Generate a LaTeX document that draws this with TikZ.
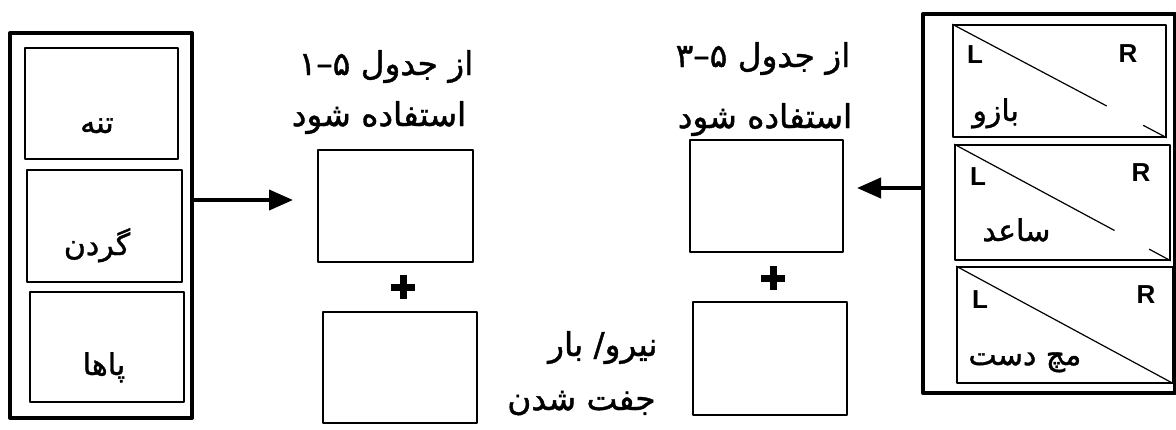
\documentclass[tikz,border=0pt]{standalone}
\usepackage{fontspec}
\setmainfont{Liberation Sans}
\newfontfamily\farsi[Script=Arabic,FakeBold=1.2]{DejaVu Sans}
\TeXXeTstate=1
\usetikzlibrary{arrows.meta,fit,calc}

\begin{document}
\begin{tikzpicture}[x=.5pt,y=-.5pt,line join=round,
    panel/.style={draw,line width=2pt,inner sep=0pt},
    cell/.style={draw,line width=.8pt,inner sep=0pt},
    fa/.style={inner sep=0pt,font=\fontsize{15}{18}\selectfont\farsi},
    head/.style={inner sep=0pt,font=\fontsize{16.4}{19}\selectfont\farsi},
    side/.style={inner sep=0pt,font=\fontsize{13}{15}\selectfont\bfseries},
    plus/.style={line width=3.5pt},
    feed/.style={line width=2pt,-{Triangle[length=12pt,width=10pt]}}]
  \useasboundingbox (0,0) rectangle (1176,429);

  % trunk, neck, legs
  \node[panel,fit={(10,33) (192,418)}] (tnl) {};
  \node[cell,fit={(25,48) (178,159)}] (trunk) {};
  \node[cell,fit={(27,170) (182,282)}] (neck) {};
  \node[cell,fit={(30,292) (184,402)}] (legs) {};
  \node[fa,anchor=base] (trunktxt) at (97,133) {\beginR تنه\endR};
  \node[fa,anchor=base] (necktxt) at (97,255) {\beginR گردن\endR};
  \node[fa,anchor=base] (legstxt) at (104,375) {\beginR پاها\endR};

  % score boxes, table 5-1
  \node[head,anchor=base] (tabA) at (386,75) {\beginR از جدول ۵\kern0pt–\kern0pt۱\endR};
  \node[head,anchor=base] (useA) at (379,126) {\beginR استفاده شود\endR};
  \node[cell,fit={(318,150) (473,262)}] (scoreA) {};
  \coordinate (plusA) at (403,287);
  \node[cell,fit={(323,312) (477,423)}] (extraA) {};

  % score boxes, table 5-3
  \node[head,anchor=base] (tabB) at (763,67) {\beginR از جدول ۵\kern0pt–\kern0pt۳\endR};
  \node[head,anchor=base] (useB) at (765,128) {\beginR استفاده شود\endR};
  \node[cell,fit={(690,140) (843,252)}] (scoreB) {};
  \coordinate (plusB) at (773,278);
  \node[cell,fit={(693,302) (847,415)}] (extraB) {};
  \node[head,anchor=base east] (load) at (658,356) {\beginR نیرو/ بار\endR};
  \node[head,anchor=base east] (coup) at (656,410) {\beginR جفت شدن\endR};

  \foreach \p in {plusA,plusB}
    \draw[plus] (\p) +(-12,0) -- +(12,0) (\p) +(0,-12) -- +(0,12);

  % upper arm, lower arm, wrist
  \node[panel,fit={(923,14) (1175,393)}] (arm) {};
  \node[cell,fit={(953,25) (1166,137)}] (upper) {};
  \node[cell,fit={(955,145) (1170,260)}] (lower) {};
  \node[cell,fit={(957,267) (1173,383)}] (wrist) {};
  \draw[line width=.6pt] (upper.north west) -- ($(upper.north west)!.72!(upper.south east)$)
    ($(upper.north west)!.89!(upper.south east)$) -- (upper.south east);
  \draw[line width=.6pt] (lower.north west) -- ($(lower.north west)!.74!(lower.south east)$)
    ($(lower.north west)!.90!(lower.south east)$) -- (lower.south east);
  \draw[line width=.6pt] (wrist.north west) -- (wrist.south east);
  \node[side] (upperL) at (975,55) {L};
  \node[side] (upperR) at (1128,54) {R};
  \node[side] (lowerL) at (978,177) {L};
  \node[side] (lowerR) at (1141,173) {R};
  \node[side] (wristL) at (980,300) {L};
  \node[side] (wristR) at (1146,295) {R};
  \node[fa,anchor=base west] (uppertxt) at (972,121) {\beginR بازو\endR};
  \node[fa,anchor=base west] (lowertxt) at (982,241) {\beginR ساعد\endR};
  \node[fa,anchor=base west] (wristtxt) at (968,365) {\beginR مچ دست\endR};

  \coordinate (tipA) at (293,200);
  \coordinate (tipB) at (857,188);
  \draw[feed] (tipA -| tnl.east) -- (tipA);
  \draw[feed] (tipB -| arm.west) -- (tipB);
\end{tikzpicture}
\end{document}
